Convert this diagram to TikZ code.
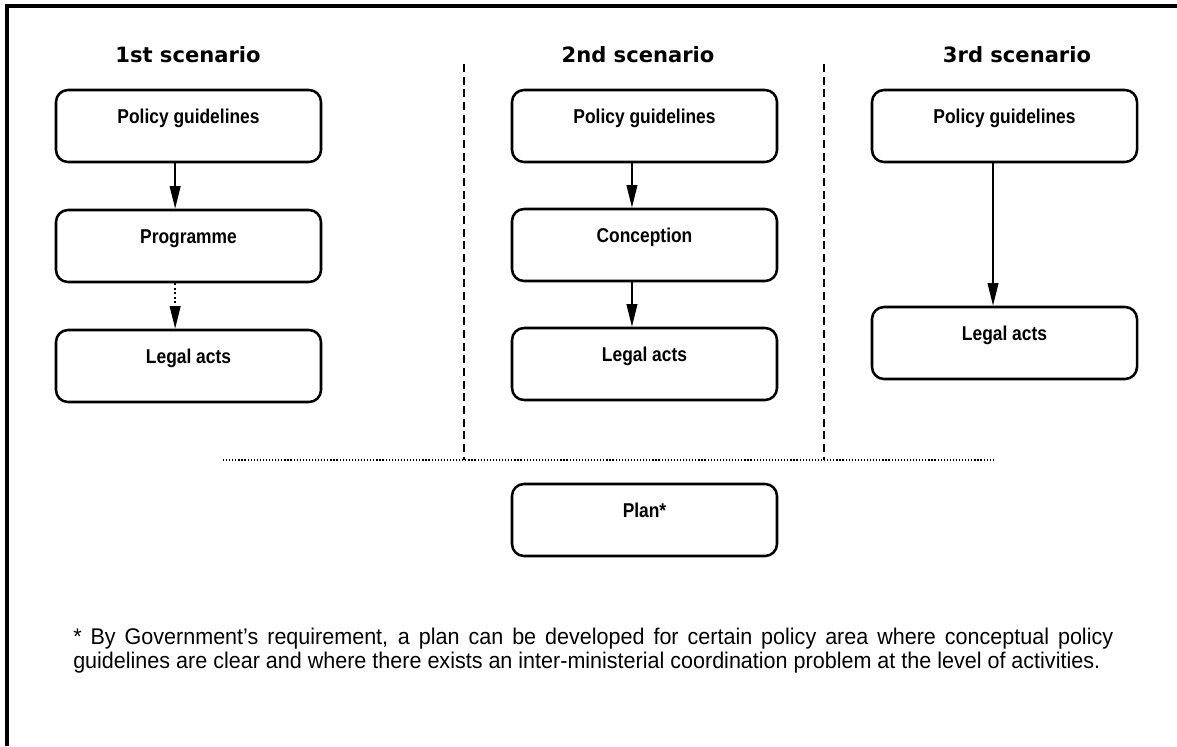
\documentclass[tikz,border=0pt]{standalone}
\usepackage{fontspec}
\setmainfont{Liberation Sans}
\newfontfamily\headfont{DejaVu Sans}
\newfontfamily\narrowfont[FakeStretch=0.87]{Liberation Sans}
\newfontfamily\notefont[FakeStretch=0.95]{Liberation Sans}
\usepackage{tikz}
\usetikzlibrary{arrows.meta}

\begin{document}
\begin{tikzpicture}[x=0.75pt, y=-0.75pt,
  box/.style={draw, line width=1.9pt, rounded corners=9pt, minimum width=198.75pt,
    inner sep=0pt, text height=24.75pt, text depth=29.25pt,
    font=\narrowfont\bfseries\fontsize{15}{17}\selectfont},
  head/.style={anchor=base, font=\headfont\bfseries\fontsize{15.8}{18}\selectfont},
  flow/.style={-{Triangle[length=17pt,width=8pt]}, line width=1.4pt},
  sep/.style={dash pattern=on 6pt off 3.5pt, line width=1.1pt}]
  \useasboundingbox (0,0) rectangle (1177,746);
  % frame
  \draw[line width=2.3pt] (7,746) -- (7,6) -- (1177,6);
  % headings
  \node[head] (h1) at (188,62) {1st scenario};
  \node[head] (h2) at (638,62) {2nd scenario};
  \node[head] (h3) at (1017,62) {3rd scenario};
  % 1st scenario
  \node[box] (pg1) at (188.5,126) {Policy guidelines};
  \node[box] (prog1) at (188.5,246) {Programme};
  \node[box] (legal1) at (188.5,366) {Legal acts};
  \draw[flow] ([xshift=-10pt]pg1.south) -- ([xshift=-10pt]prog1.north);
  \draw[flow, dotted] ([xshift=-10pt]prog1.south) -- ([xshift=-10pt]legal1.north);
  % 2nd scenario
  \node[box] (pg2) at (644.5,126) {Policy guidelines};
  \node[box] (con2) at (644.5,245) {Conception};
  \node[box] (legal2) at (644.5,364) {Legal acts};
  \draw[flow] ([xshift=-9.4pt]pg2.south) -- ([xshift=-9.4pt]con2.north);
  \draw[flow] ([xshift=-9.4pt]con2.south) -- ([xshift=-9.4pt]legal2.north);
  % 3rd scenario
  \node[box] (pg3) at (1004.5,126) {Policy guidelines};
  \node[box] (legal3) at (1004.5,343) {Legal acts};
  \draw[flow] ([xshift=-8.6pt]pg3.south) -- ([xshift=-8.6pt]legal3.north);
  % separators
  \foreach \sx in {464,824}
    \draw[sep] (\sx,64) -- (\sx,460);
  \draw[line width=0.9pt, dash pattern=on 0.9pt off 1.4pt] (223,460) -- (993,460);
  % plan
  \node[box] (plan) at (644.5,520) {Plan*};
  % footnote
  \node[anchor=base west, inner sep=0pt, text width=780pt, align=justify,
    font=\notefont\fontsize{17}{18}\selectfont] (note) at (73,644)
    {* By Government’s requirement, a plan can be developed for certain policy area where conceptual policy\linebreak guidelines are clear and where there exists an inter-ministerial coordination problem at the level of activities.};
\end{tikzpicture}
\end{document}
